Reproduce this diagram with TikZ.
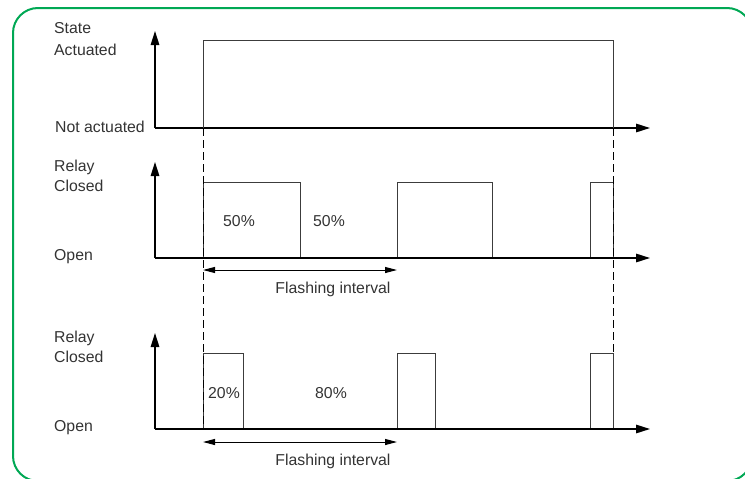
\documentclass[tikz,border=0pt]{standalone}
\usepackage{fontspec}
\setmainfont{Liberation Sans}
\usetikzlibrary{arrows.meta}
\definecolor{framegreen}{RGB}{0,168,84}
\definecolor{sig}{RGB}{60,60,60}
\tikzset{
  axis/.style={line width=1.5pt, black, -{Triangle[length=14pt,width=8.5pt]}},
  signal/.style={line width=1pt, sig},
  guide/.style={line width=0.9pt, black, dash pattern=on 8pt off 4pt},
  span/.style={line width=1pt, black, {Triangle[length=12pt,width=6pt]}-{Triangle[length=12pt,width=6pt]}},
  lbl/.style={anchor=base west, inner sep=0pt, font=\fontsize{15.8}{15.8}\selectfont, text=black!80},
  pct/.style={anchor=base, inner sep=0pt, font=\fontsize{15.8}{15.8}\selectfont, text=black!80},
}
\begin{document}
\begin{tikzpicture}[x=1pt,y=-1pt]
\useasboundingbox (0,0) rectangle (745,479);
% rounded frame, partly running off the page
\draw[framegreen, line width=2pt, rounded corners=25pt] (13,8) rectangle (752,481);

% ---------- state diagram ----------
\coordinate (o1) at (155,128);
\coordinate (y1) at (155,31);
\coordinate (x1) at (650,128);
\draw[axis] (o1) -- (y1);
\draw[axis] (o1) -- (x1);
\draw[signal] (203,128) -- (203,40) -- (613,40) -- (613,128);
\node[lbl] (st) at (54,33) {State};
\node[lbl] (act) at (54,55) {Actuated};
\node[lbl] (nact) at (55,132.5) {Not actuated};

% ---------- relay, 50/50 ----------
\coordinate (o2) at (155,258);
\coordinate (y2) at (155,162);
\coordinate (x2) at (650,258);
\draw[signal] (203,258) -- (203,182) -- (300,182) -- (300,258);
\draw[signal] (397,258) -- (397,182) -- (492,182) -- (492,258);
\draw[signal] (590,258) -- (590,182) -- (613,182) -- (613,258);
\draw[axis] (o2) -- (y2);
\draw[axis] (o2) -- (x2);
\node[lbl] (r1) at (54,171) {Relay};
\node[lbl] (c1) at (54,191) {Closed};
\node[lbl] (op1) at (54,260) {Open};
\node[pct] (p50a) at (239,226.7) {50\%};
\node[pct] (p50b) at (329,226.7) {50\%};
\coordinate (f1a) at (203,270);
\coordinate (f1b) at (397,270);
\draw[span] (f1a) -- (f1b);
\node[pct] (fl1) at (333,293) {Flashing interval};

% ---------- relay, 20/80 ----------
\coordinate (o3) at (155,429);
\coordinate (y3) at (155,333);
\coordinate (x3) at (650,429);
\draw[signal] (203,429) -- (203,353) -- (243,353) -- (243,429);
\draw[signal] (397,429) -- (397,353) -- (435,353) -- (435,429);
\draw[signal] (590,429) -- (590,353) -- (613,353) -- (613,429);
\draw[axis] (o3) -- (y3);
\draw[axis] (o3) -- (x3);
\node[lbl] (r2) at (54,342.7) {Relay};
\node[lbl] (c2) at (54,362) {Closed};
\node[lbl] (op2) at (54,431.7) {Open};
\node[pct] (p20) at (224,398) {20\%};
\node[pct] (p80) at (331,398) {80\%};
\coordinate (f2a) at (203,442);
\coordinate (f2b) at (397,442);
\draw[span] (f2a) -- (f2b);
\node[pct] (fl2) at (333,465) {Flashing interval};

% ---------- switching-instant guides ----------
\draw[guide] (203,128) -- (203,430);
\draw[guide] (613,128) -- (613,353);
\end{tikzpicture}
\end{document}
